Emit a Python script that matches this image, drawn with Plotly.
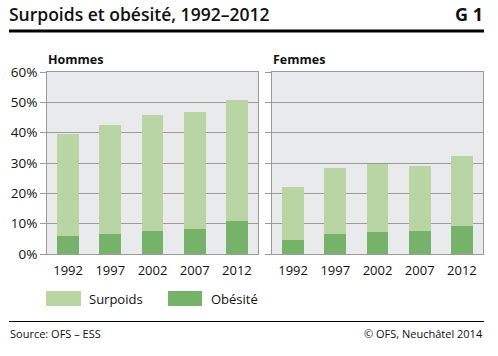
import plotly.graph_objects as go

years = ["1992", "1997", "2002", "2007", "2012"]
hommes_obesite = [6.0, 6.7, 7.6, 8.2, 10.9]
hommes_surpoids = [33.6, 35.8, 38.2, 38.6, 39.9]
femmes_obesite = [4.6, 6.6, 7.3, 7.6, 9.2]
femmes_surpoids = [17.5, 21.8, 22.4, 21.4, 23.1]
y_ticks = [0, 10, 20, 30, 40, 50, 60]
y_ticklabels = ["0%", "10%", "20%", "30%", "40%", "50%", "60%"]

C_SUR = "#B8D5A3"
C_OBE = "#76B26A"
BG = "#E9EAEC"
GRID = "#9A9A9A"
TXT = "#111111"
FONT = "Open Sans"
W, H = 498, 356

def px(x):
    return x / W

def py(y):
    return 1 - y / H

fig = go.Figure()
for xa, ya, ob, su in [("x", "y", hommes_obesite, hommes_surpoids),
                       ("x2", "y2", femmes_obesite, femmes_surpoids)]:
    fig.add_trace(go.Bar(x=years, y=ob, name="Obésité", marker_color=C_OBE,
                         marker_line_width=0, xaxis=xa, yaxis=ya, showlegend=False))
    fig.add_trace(go.Bar(x=years, y=su, name="Surpoids", marker_color=C_SUR,
                         marker_line_width=0, xaxis=xa, yaxis=ya, showlegend=False))

common_x = dict(type="category", showgrid=False, showline=True, linecolor=GRID,
                linewidth=1, mirror=True, ticks="", automargin=False, ticklabelstandoff=4,
                tickfont=dict(family=FONT, size=13, color=TXT))
common_y = dict(range=[0, 60], tickvals=y_ticks, showgrid=True, gridcolor=GRID, gridwidth=1,
                showline=True, linecolor=GRID, linewidth=1, mirror=True, ticks="outside",
                ticklen=6, tickcolor=GRID, zeroline=False, automargin=False,
                tickfont=dict(family=FONT, size=13.5, color=TXT))

fig.update_layout(
    width=W, height=H, margin=dict(l=0, r=0, t=0, b=0, pad=0, autoexpand=False),
    paper_bgcolor="white", plot_bgcolor=BG, barmode="stack", bargap=0.48,
    showlegend=False,
    xaxis=dict(domain=[px(47), px(258)], anchor="y", **common_x),
    xaxis2=dict(domain=[px(272), px(483)], anchor="y2", **common_x),
    yaxis=dict(domain=[py(254), py(72)], anchor="x", ticktext=y_ticklabels, **common_y),
    yaxis2=dict(domain=[py(254), py(72)], anchor="x2", showticklabels=False, **common_y),
)

shapes = [
    dict(type="line", xref="paper", yref="paper", x0=px(9), x1=px(484), y0=py(31), y1=py(31),
         line=dict(color="black", width=3)),
    dict(type="line", xref="paper", yref="paper", x0=px(9), x1=px(484), y0=py(321.5), y1=py(321.5),
         line=dict(color="black", width=1.2)),
    dict(type="rect", xref="paper", yref="paper", x0=px(46), x1=px(81), y0=py(306), y1=py(291),
         fillcolor=C_SUR, line_width=0),
    dict(type="rect", xref="paper", yref="paper", x0=px(168), x1=px(202), y0=py(306), y1=py(291),
         fillcolor=C_OBE, line_width=0),
]
fig.update_layout(shapes=shapes)

def ann(text, x, y, size, xanchor="left", weight="normal"):
    fig.add_annotation(text=text, xref="paper", yref="paper", x=px(x), y=py(y),
                       xanchor=xanchor, yanchor="middle", showarrow=False,
                       font=dict(family=FONT, size=size, color=TXT, weight=weight))

ann("Surpoids et obésité, 1992–2012", 7, 14, 17.5, weight=600)
ann("G 1", 485, 14, 18, xanchor="right", weight=700)
ann("Hommes", 46, 59, 12.5, weight=700)
ann("Femmes", 271, 59, 12.5, weight=700)
ann("Surpoids", 87, 298.5, 13)
ann("Obésité", 209, 298.5, 13)
ann("Source: OFS – ESS", 8, 333, 11)
ann("© OFS, Neuchâtel 2014", 485, 333, 11, xanchor="right")

fig.write_html("out.html", config={"displayModeBar": False},
               post_script="document.body.style.margin='0';")
